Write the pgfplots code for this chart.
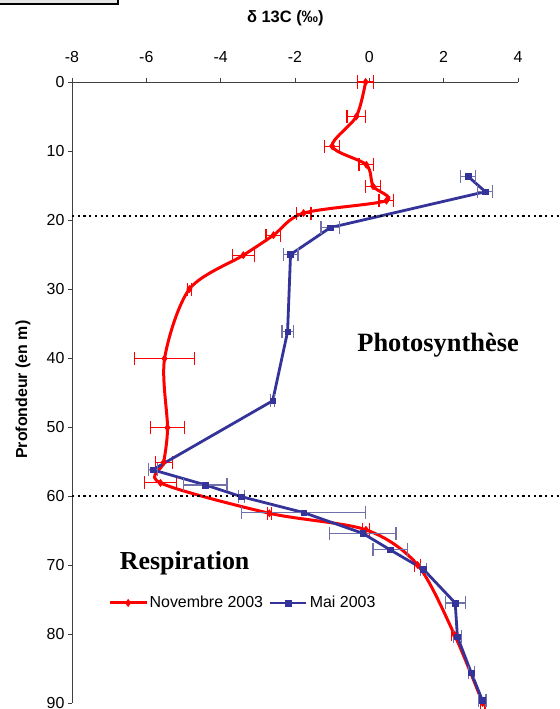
\documentclass[border=0pt]{standalone}
\usepackage{fontspec}
\setmainfont{Liberation Sans}
\newfontfamily\garfont{Liberation Serif}
\usepackage{pgfplots}
\pgfplotsset{compat=1.18}
\definecolor{novred}{RGB}{255,0,0}
\definecolor{maiblue}{RGB}{51,51,153}
\definecolor{maierr}{RGB}{112,112,170}

\begin{document}
\begin{tikzpicture}
\useasboundingbox (0,0) rectangle (560bp,709bp);
\draw[line width=1.6bp, fill=black!10] (-3bp,713bp) rectangle (118bp,705bp);
\begin{axis}[
    at={(72bp,627bp)}, anchor=north west,
    scale only axis, width=446bp, height=621bp,
    xmin=-8, xmax=4, ymin=0, ymax=90,
    y dir=reverse,
    axis x line*=top, axis y line*=left,
    axis line style={-, black!75, line width=0.9bp},
    xtick={-8,-6,...,4}, ytick={0,10,...,90},
    tick align=outside, major tick length=4bp,
    tick style={black!75, line width=0.9bp},
    tick label style={font=\fontsize{16}{19}\selectfont},
    xticklabel style={yshift=12bp},
    /pgf/number format/assume math mode=true,
    clip=false,
    legend style={draw=none, fill=none, at={(axis cs:-7.1,75.5)}, anchor=west,
        legend columns=2, font=\fontsize{16}{19}\selectfont,
        /tikz/every even column/.append style={column sep=4bp}},
    legend image code/.code={\draw[mark repeat=2, mark phase=2] plot coordinates {(0bp,0bp) (18bp,0bp) (36bp,0bp)};},
]
% Novembre 2003
\addplot[novred, line width=3bp, smooth, mark=diamond*, mark size=3.6bp,
    mark options={solid, line width=0.5bp},
    error bars/.cd, x dir=both, x explicit,
    error bar style={novred, line width=1.2bp},
    error mark options={novred, line width=1.2bp, mark size=6.5bp, rotate=90}]
coordinates {
    (-0.10,0.0) +- (0.22,0)
    (-0.35,5.0) +- (0.25,0)
    (-1.00,9.3) +- (0.20,0)
    (-0.08,12.0) +- (0.20,0)
    (0.10,15.1) +- (0.20,0)
    (0.46,17.2) +- (0.20,0)
    (-1.77,19.0) +- (0.20,0)
    (-2.58,22.2) +- (0.20,0)
    (-3.39,25.1) +- (0.30,0)
    (-4.84,30.0) +- (0.06,0)
    (-5.51,40.1) +- (0.80,0)
    (-5.43,50.1) +- (0.45,0)
    (-5.53,55.1) +- (0.23,0)
    (-5.62,58.1) +- (0.43,0)
    (-2.69,62.5) +- (0.06,0)
    (-0.09,64.9) +- (0.10,0)
    (1.30,70.0) +- (0.08,0)
    (2.29,80.1) +- (0.08,0)
    (3.05,90.0) +- (0.06,0)
};
\addlegendentry{Novembre 2003}
% Mai 2003
\addplot[maiblue, line width=2.8bp, mark=square*, mark size=2.8bp,
    mark options={solid, line width=0.5bp},
    error bars/.cd, x dir=both, x explicit,
    error bar style={maierr, line width=1.2bp},
    error mark options={maierr, line width=1.2bp, mark size=6.5bp, rotate=90}]
coordinates {
    (2.66,13.7) +- (0.20,0)
    (3.12,15.9) +- (0.20,0)
    (-1.05,21.1) +- (0.25,0)
    (-2.12,25.0) +- (0.20,0)
    (-2.20,36.2) +- (0.15,0)
    (-2.60,46.2) +- (0.05,0)
    (-5.83,56.2) +- (0.12,0)
    (-4.41,58.4) +- (0.58,0)
    (-3.44,60.1) +- (0.08,0)
    (-1.77,62.4) +- (1.67,0)
    (-0.18,65.4) +- (0.90,0)
    (0.56,67.8) +- (0.46,0)
    (1.45,70.6) +- (0.08,0)
    (2.31,75.5) +- (0.27,0)
    (2.37,80.4) +- (0.10,0)
    (2.74,85.6) +- (0.08,0)
    (3.04,89.6) +- (0.10,0)
};
\addlegendentry{Mai 2003}
% seuils
\draw[black, line width=2.2bp, dash pattern=on 2.2bp off 3.5bp] (axis cs:-8,19.4) -- (axis cs:5.11,19.4);
\draw[black, line width=2.2bp, dash pattern=on 2.2bp off 3.5bp] (axis cs:-8,60) -- (axis cs:5.11,60);
\node[font=\garfont\bfseries\fontsize{26.5}{31}\selectfont] at (axis cs:1.85,38.1) {Photosynthèse};
\node[font=\garfont\bfseries\fontsize{26}{31}\selectfont] at (axis cs:-4.97,69.7) {Respiration};
\node[font=\bfseries\fontsize{16.5}{19}\selectfont] at (axis cs:-2.26,-9.3) {δ 13C (‰)};
\node[font=\bfseries\fontsize{16}{19}\selectfont, rotate=90] at (axis cs:-9.32,44.6) {Profondeur (en m)};
\end{axis}
\end{tikzpicture}
\end{document}
